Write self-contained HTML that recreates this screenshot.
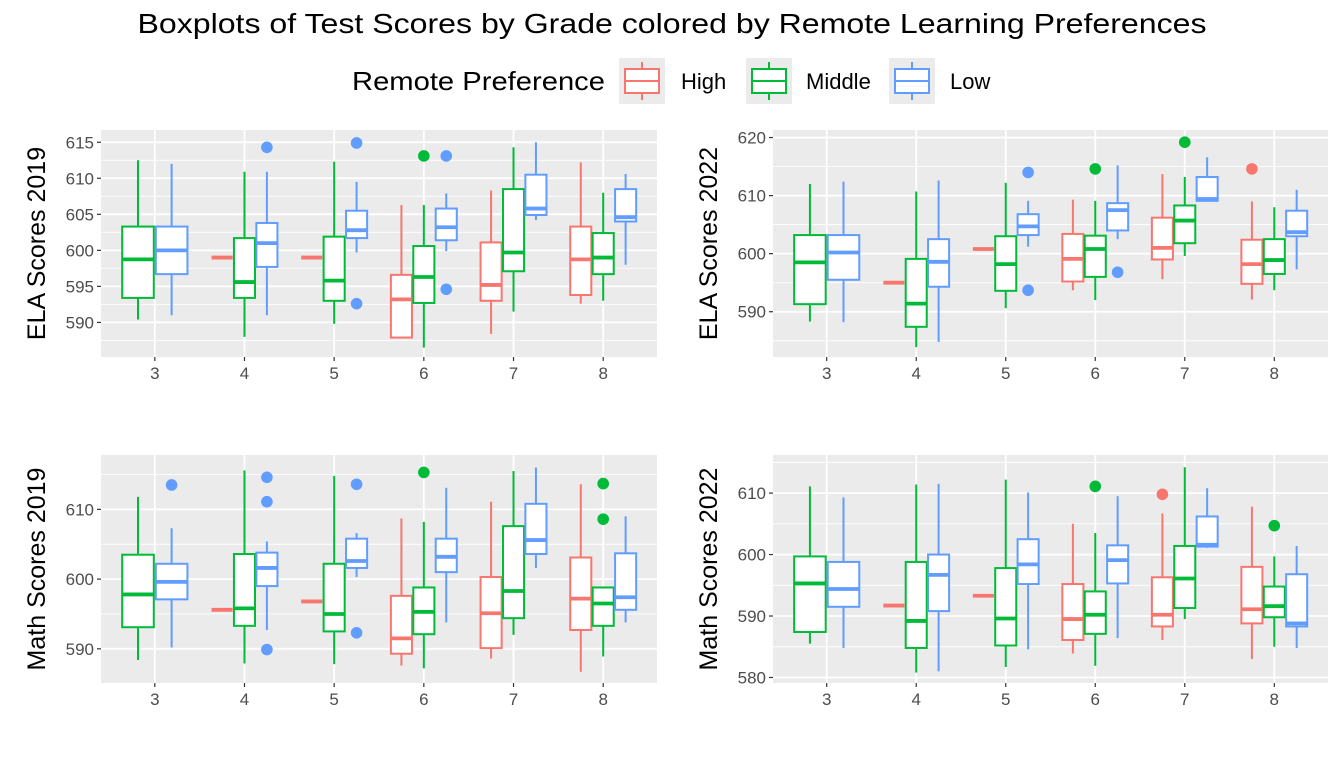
<!DOCTYPE html>
<html><head><meta charset="utf-8">
<style>
html,body{margin:0;padding:0;background:#fff;}
svg text{font-family:"Liberation Sans",Arial,sans-serif;}
</style></head>
<body>
<svg id="chart" width="1344" height="768" viewBox="0 0 1344 768" xmlns="http://www.w3.org/2000/svg">
<rect width="1344" height="768" fill="#fff"/>
<text x="672" y="33" text-anchor="middle" font-size="28" textLength="1069" lengthAdjust="spacingAndGlyphs" fill="#000">Boxplots of Test Scores by Grade colored by Remote Learning Preferences</text>
<g>
<text x="352" y="90" font-size="26" textLength="253" lengthAdjust="spacingAndGlyphs" fill="#000">Remote Preference</text>
<g>
<rect x="619" y="58" width="46" height="46" fill="#EBEBEB"/>
<line x1="642" y1="62" x2="642" y2="69" stroke="#F8766D" stroke-width="2"/>
<line x1="642" y1="93" x2="642" y2="100" stroke="#F8766D" stroke-width="2"/>
<rect x="625" y="69" width="34" height="24" fill="#fff" stroke="#F8766D" stroke-width="2"/>
<line x1="625" y1="81" x2="659" y2="81" stroke="#F8766D" stroke-width="2"/>
<text x="681" y="89" font-size="22" fill="#000">High</text></g>
<g>
<rect x="746" y="58" width="46" height="46" fill="#EBEBEB"/>
<line x1="769" y1="62" x2="769" y2="69" stroke="#00BA38" stroke-width="2"/>
<line x1="769" y1="93" x2="769" y2="100" stroke="#00BA38" stroke-width="2"/>
<rect x="752" y="69" width="34" height="24" fill="#fff" stroke="#00BA38" stroke-width="2"/>
<line x1="752" y1="81" x2="786" y2="81" stroke="#00BA38" stroke-width="2"/>
<text x="806" y="89" font-size="22" fill="#000">Middle</text></g>
<g>
<rect x="889" y="58" width="46" height="46" fill="#EBEBEB"/>
<line x1="912" y1="62" x2="912" y2="69" stroke="#619CFF" stroke-width="2"/>
<line x1="912" y1="93" x2="912" y2="100" stroke="#619CFF" stroke-width="2"/>
<rect x="895" y="69" width="34" height="24" fill="#fff" stroke="#619CFF" stroke-width="2"/>
<line x1="895" y1="81" x2="929" y2="81" stroke="#619CFF" stroke-width="2"/>
<text x="950" y="89" font-size="22" fill="#000">Low</text></g>
</g>
</svg>
<script>
// categories
const grades = ["3","4","5","6","7","8"];
const groups = ["High","Middle","Low"];
// stats per box: [lowerWhisker, q1, median, q3, upperWhisker]; null = absent
const ela19High   = [null,[599,599,599,599,599],[599,599,599,599,599],[587.8,587.9,593.2,596.6,606.3],[588.4,593,595.2,601.1,608.3],[592.6,593.8,598.75,603.3,612.2]];
const ela19Middle = [[590.4,593.4,598.75,603.3,612.5],[588,593.4,595.6,601.7,610.9],[589.8,593,595.8,601.9,612.3],[586.5,592.7,596.3,600.6,606.3],[591.5,597.1,599.7,608.5,614.3],[593,596.7,599,602.4,608]];
const ela19Low    = [[591,596.7,600,603.3,612],[591,597.7,601,603.8,610.9],[599.7,601.7,602.8,605.5,609.5],[599.9,601.4,603.2,605.8,607.9],[604.2,604.9,605.8,610.5,615],[598,604,604.6,608.5,610.6]];
const ela19HighOut = [[],[],[],[],[],[]];
const ela19MiddleOut = [[],[],[],[613.1],[],[]];
const ela19LowOut = [[],[614.3],[614.9,592.6],[613.1,594.6],[],[]];

const ela22High   = [null,[595,595,595,595,595],[600.8,600.8,600.8,600.8,600.8],[593.7,595.2,599.1,603.4,609.3],[595.6,599,601,606.2,613.7],[592.1,594.8,598.2,602.4,609]];
const ela22Middle = [[588.3,591.3,598.5,603.2,612],[583.9,587.4,591.4,599.1,610.7],[590.6,593.6,598.2,603,612.2],[592,596,600.8,603.1,609.1],[599.6,601.8,605.7,608.3,613.2],[593.7,596.5,598.9,602.5,608]];
const ela22Low    = [[588.2,595.5,600.2,603.2,612.4],[584.8,594.3,598.6,602.5,612.6],[601.2,603.2,604.7,606.8,609.1],[602.5,604,607.5,608.7,615.2],[609,609.1,609.4,613.2,616.6],[597.3,603,603.7,607.4,611]];
const ela22HighOut = [[],[],[],[],[],[614.6]];
const ela22MiddleOut = [[],[],[],[614.6],[619.2],[]];
const ela22LowOut = [[],[],[614,593.7],[596.8],[],[]];

const math19High   = [null,[595.6,595.6,595.6,595.6,595.6],[596.8,596.8,596.8,596.8,596.8],[587.6,589.3,591.5,597.6,608.7],[588.6,590.1,595.1,600.3,611.1],[586.7,592.7,597.2,603.1,613.6]];
const math19Middle = [[588.4,593.1,597.8,603.5,611.8],[587.9,593.3,595.8,603.6,615.6],[587.8,592.5,595,602.2,614.8],[587.2,592.1,595.3,598.8,608.2],[592,594.4,598.3,607.6,615.5],[588.9,593.3,596.5,598.8,598.8]];
const math19Low    = [[590.2,597.1,599.6,602.2,607.3],[592.7,599,601.6,603.8,605.4],[600.3,601.6,602.6,605.8,606.6],[593.8,601,603.2,605.8,613.1],[601.6,603.6,605.6,610.8,616],[593.8,595.6,597.4,603.7,609]];
const math19HighOut = [[],[],[],[],[],[]];
const math19MiddleOut = [[],[],[],[615.3],[],[613.7,608.6]];
const math19LowOut = [[613.5],[614.6,611.1,589.9],[613.6,592.3],[],[],[]];

const math22High   = [null,[591.7,591.7,591.7,591.7,591.7],[593.3,593.3,593.3,593.3,593.3],[583.9,586.1,589.5,595.2,605],[586.1,588.3,590.2,596.3,606.7],[583,588.8,591.1,598,607.8]];
const math22Middle = [[585.5,587.4,595.3,599.7,611.1],[580.8,584.8,589.2,598.8,611.4],[581.7,585.2,589.6,597.8,612.2],[581.9,587.1,590.2,594,603.5],[589.5,591.3,596.1,601.4,614.2],[585,589.8,591.6,594.8,599.7]];
const math22Low    = [[584.8,591.5,594.4,598.8,609.3],[581,590.8,596.7,600,611.5],[584.6,595.2,598.4,602.5,610.1],[586.4,595.3,599.1,601.5,609.5],[601.1,601.3,601.6,606.2,610.8],[584.8,588.3,588.8,596.8,601.4]];
const math22HighOut = [[],[],[],[],[609.8],[]];
const math22MiddleOut = [[],[],[],[611.1],[],[604.7]];
const math22LowOut = [[],[],[],[],[],[]];

// tick labels
const ela19Ticks = [590,595,600,605,610,615];
const ela22Ticks = [590,600,610,620];
const math19Ticks = [590,600,610];
const math22Ticks = [580,590,600,610];

const colors = ["#F8766D","#00BA38","#619CFF"];
const NS = "http://www.w3.org/2000/svg";
const svg = document.getElementById("chart");

function mk(tag, attrs, parent){
  const e = document.createElementNS(NS, tag);
  for (const k in attrs) e.setAttribute(k, attrs[k]);
  parent.appendChild(e);
  return e;
}

const panels = [
  {name:"ela-2019", title:"ELA Scores 2019", x0:101, x1:657, y0:130, y1:357, vmin:585.2, vmax:616.7, ticks:ela19Ticks, stats:[ela19High,ela19Middle,ela19Low], outs:[ela19HighOut,ela19MiddleOut,ela19LowOut], tx:45},
  {name:"ela-2022", title:"ELA Scores 2022", x0:773, x1:1328, y0:130, y1:357, vmin:582.2, vmax:621.3, ticks:ela22Ticks, stats:[ela22High,ela22Middle,ela22Low], outs:[ela22HighOut,ela22MiddleOut,ela22LowOut], tx:717},
  {name:"math-2019", title:"Math Scores 2019", x0:101, x1:657, y0:455, y1:683, vmin:585.1, vmax:617.8, ticks:math19Ticks, stats:[math19High,math19Middle,math19Low], outs:[math19HighOut,math19MiddleOut,math19LowOut], tx:45},
  {name:"math-2022", title:"Math Scores 2022", x0:773, x1:1328, y0:455, y1:683, vmin:579.1, vmax:616.2, ticks:math22Ticks, stats:[math22High,math22Middle,math22Low], outs:[math22HighOut,math22MiddleOut,math22LowOut], tx:717}
];

panels.forEach(p => {
  const w = p.x1 - p.x0, h = p.y1 - p.y0;
  const step = w / (grades.length + 0.2);
  const xS = i => p.x0 + (i + 0.6) * step;
  const yS = v => p.y0 + (p.vmax - v) / (p.vmax - p.vmin) * h;
  const g = mk("g", {}, svg);
  
  
  const bg = mk("rect", {x:p.x0, y:p.y0, width:w, height:h, fill:"#EBEBEB"}, g);
  
  
  const tstep = p.ticks[1] - p.ticks[0];
  for (let t = p.ticks[0] - tstep/2; t <= p.vmax; t += tstep) {
    if (t < p.vmin) continue;
    const ln = mk("line", {x1:p.x0, x2:p.x1, y1:yS(t), y2:yS(t), stroke:"#fff", "stroke-width":0.9}, g);
    
    
  }
  p.ticks.forEach(t => {
    const y = yS(t);
    const ln = mk("line", {x1:p.x0, x2:p.x1, y1:y, y2:y, stroke:"#fff", "stroke-width":1.8}, g);
    
    
    mk("line", {x1:p.x0-4, x2:p.x0, y1:y, y2:y, stroke:"#333", "stroke-width":1.2}, g);
    const tx = mk("text", {x:p.x0-7, y:y+6, "text-anchor":"end", "font-size":17, fill:"#4D4D4D"}, g);
    tx.textContent = t;
    
    
  });
  grades.forEach((gr, i) => {
    const x = xS(i);
    const ln = mk("line", {x1:x, x2:x, y1:p.y0, y2:p.y1, stroke:"#fff", "stroke-width":1.8}, g);
    
    
    mk("line", {x1:x, x2:x, y1:p.y1, y2:p.y1+4, stroke:"#333", "stroke-width":1.2}, g);
    const tx = mk("text", {x:x, y:p.y1+22, "text-anchor":"middle", "font-size":17, fill:"#4D4D4D"}, g);
    tx.textContent = gr;
    
    
  });
  grades.forEach((gr, i) => {
    const present = [0,1,2].filter(k => p.stats[k][i]);
    const n = present.length;
    const slot = 0.75 * step / n;
    present.forEach((k, j) => {
      const s = p.stats[k][i];
      const cx = xS(i) - 0.75*step/2 + slot*(j+0.5);
      const bw = slot * 0.94;
      const c = colors[k];
      const bg2 = mk("g", {}, g);
      
      
      mk("line", {x1:cx, x2:cx, y1:yS(s[0]), y2:yS(s[1]), stroke:c, "stroke-width":2}, bg2);
      mk("line", {x1:cx, x2:cx, y1:yS(s[3]), y2:yS(s[4]), stroke:c, "stroke-width":2}, bg2);
      mk("rect", {x:cx-bw/2, y:yS(s[3]), width:bw, height:Math.max(0, yS(s[1])-yS(s[3])), fill:"#fff", stroke:c, "stroke-width":2}, bg2);
      mk("line", {x1:cx-bw/2, x2:cx+bw/2, y1:yS(s[2]), y2:yS(s[2]), stroke:c, "stroke-width":3.8}, bg2);
      p.outs[k][i].forEach(v => {
        const d = mk("circle", {cx:cx, cy:yS(v), r:5.8, fill:c}, g);
        
        
      });
    });
  });
  const cy = (p.y0 + p.y1) / 2;
  const at = mk("text", {x:p.tx, y:cy, "text-anchor":"middle", "font-size":25, fill:"#000", transform:"rotate(-90 " + p.tx + " " + cy + ")"}, svg);
  at.textContent = p.title;
  
  
});
</script>
</body></html>
